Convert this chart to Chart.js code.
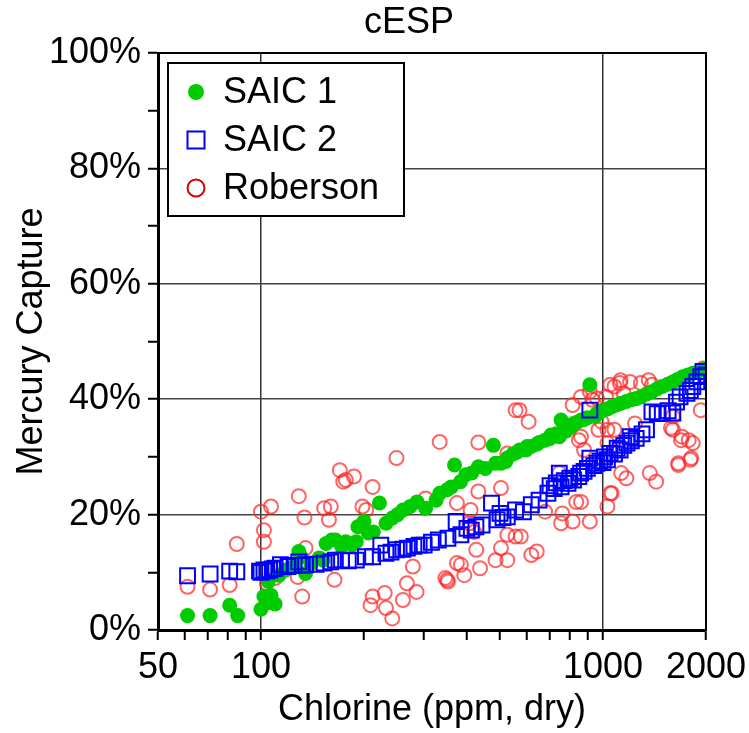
<!DOCTYPE html>
<html>
<head>
<meta charset="utf-8">
<script src="https://cdn.jsdelivr.net/npm/chart.js@4.4.1/dist/chart.umd.min.js"></script>
<style>
  html, body { margin: 0; padding: 0; background: #fff; }
  #wrap { width: 749px; height: 733px; }
</style>
</head>
<body>
<div id="wrap"><canvas id="myChart" width="749" height="733"></canvas></div>
<script>
var chartTitle = "cESP";
var xTitle = "Chlorine (ppm, dry)";
var yTitle = "Mercury Capture";
var seriesNames = ["SAIC 1", "SAIC 2", "Roberson"];

var xTickValues = [50, 60, 70, 80, 90, 100, 200, 300, 400, 500, 600, 700, 800, 900, 1000, 2000];
var xLabelValues = [50, 100, 1000, 2000];
var xGridValues = [100, 1000];

// SAIC 1 (green dots)
var saic1Chlorine = [61, 71, 81, 85.5, 100, 102, 104, 105, 107, 110, 113, 118, 125, 129, 131, 135, 140, 148, 152, 155, 161, 165, 172, 177, 185, 190, 192, 200, 206, 213, 222, 232, 242, 251, 260, 273, 286, 303, 325, 333, 350, 360, 368, 383, 397, 413, 432, 453, 478, 485, 503, 520, 525, 545, 560, 570, 595, 600, 616, 640, 650, 677, 700, 704, 730, 745, 754, 780, 790, 806, 820, 840, 863, 880, 900, 915, 948, 960, 980, 1000, 1030, 1060, 1095, 1130, 1170, 1210, 1250, 1290, 1340, 1390, 1440, 1490, 1545, 1600, 1650, 1710, 1770, 1830, 1900, 1960, 2000];
var saic1Capture = [2.5, 2.5, 4.3, 2.5, 3.6, 5.8, 4.7, 8.4, 6, 4.5, 9.5, 10.4, 11, 13.6, 12.7, 9.8, 11.5, 12.5, 12.1, 15, 15.6, 15.6, 14.5, 15.3, 14.8, 15.3, 17.9, 18.8, 16.8, 17, 22, 18.5, 19.4, 20, 20.8, 21.4, 22.2, 21.1, 22.5, 23.7, 24.3, 24.8, 28.6, 25.7, 26.9, 27.2, 28.3, 28, 32, 28.9, 28.9, 29.2, 29.8, 30.5, 30.8, 31.2, 31.2, 31.8, 31.8, 32.2, 32.5, 32.9, 33.2, 33.8, 34, 33.5, 36.4, 34.5, 35, 35.2, 35.8, 36, 36.4, 36.5, 36.8, 42.5, 37, 37.5, 37.8, 38.1, 38.3, 38.7, 39, 39.3, 39.6, 39.9, 40.1, 40.4, 40.9, 41.3, 41.8, 42.2, 42.6, 43, 43.4, 43.9, 44.2, 44.5, 44.8, 45.1, 45.3];

// SAIC 2 (blue squares)
var saic2Chlorine = [61, 71, 81, 85, 99, 100, 102, 104, 106, 108, 110, 114, 120, 125, 129, 132, 135, 145, 153, 160, 165, 172, 180, 190, 202, 212, 224, 232, 240, 249, 260, 268, 280, 290, 300, 315, 330, 352, 372, 384, 400, 412, 425, 443, 472, 490, 500, 510, 525, 555, 585, 617, 650, 690, 700, 720, 730, 745, 754, 770, 790, 800, 820, 850, 860, 880, 900, 915, 915, 940, 960, 980, 1000, 1010, 1030, 1048, 1080, 1100, 1122, 1150, 1175, 1200, 1210, 1250, 1300, 1340, 1390, 1440, 1490, 1550, 1600, 1640, 1680, 1760, 1800, 1830, 1880, 1930, 1960, 2000];
var saic2Capture = [9.4, 9.7, 10.2, 10.1, 10.2, 10, 10.4, 10.2, 10.4, 10.6, 10.7, 11.3, 11, 11.2, 11.8, 11.2, 11.3, 11.4, 11.6, 11.8, 12.1, 12.1, 12, 12.1, 12.7, 12.7, 14.7, 13.3, 13.5, 13.9, 14, 14.2, 14.5, 14.7, 14.7, 15.2, 15.6, 15.9, 18.8, 16.5, 17.6, 17.3, 17.9, 18.2, 22, 19.1, 20.2, 19.5, 19.6, 20.8, 20.5, 21.7, 22.5, 23.7, 25, 24.5, 25.5, 27.2, 24.8, 25.9, 25.4, 26.3, 26, 26.6, 27.2, 27.5, 28, 29.8, 38.1, 28.5, 28.9, 29.3, 29, 30, 29.5, 30.6, 30.5, 31.5, 31.2, 32, 32.4, 33.5, 32.8, 33.2, 34, 34.7, 37.8, 37.5, 37.6, 38, 37.6, 39.5, 40.4, 41, 41.5, 42.2, 43, 43.9, 44.8, 44.2];

// Roberson (red open circles)
var robChlorine = [61, 71, 81, 85, 100, 107, 102, 102, 104, 110, 129, 134, 135, 128, 132, 153, 158, 164, 170, 174, 177, 187, 198, 203, 212, 249, 160, 209, 212, 230, 232, 242, 260, 267, 285, 278, 303, 333, 346, 352, 350, 384, 393, 374, 426, 437, 485, 503, 525, 432, 374, 410, 407, 420, 432, 503, 525, 555, 570, 606, 555, 525, 617, 575, 640, 677, 754, 760, 815, 915, 835, 862, 1030, 1050, 1130, 1170, 1370, 1430, 1660, 1800, 745, 850, 815, 915, 1060, 1120, 1200, 1290, 1360, 1580, 1660, 1780, 1830, 1810, 1930, 1960, 970, 880, 1030, 1080, 1600, 1240, 990, 960, 1050, 930, 1020, 1080, 1125, 862, 1030, 1700, 1600, 1690, 862, 1150, 1390];
var robCapture = [7.5, 7, 7.8, 14.9, 20.5, 21.4, 17.3, 15.3, 8.1, 9, 23.2, 19.5, 14.2, 9.2, 5.8, 21.1, 19.1, 8.7, 27.7, 25.7, 26, 26.6, 21.4, 20.8, 24.8, 29.8, 21.4, 4.3, 5.8, 6.4, 3.8, 2, 5.2, 8.1, 6.6, 11, 22.8, 32.6, 9, 8.4, 8.7, 11.3, 9.5, 11.6, 13.9, 10.7, 12.1, 14.2, 16.5, 24, 22, 20.8, 18.5, 17, 32.5, 24.6, 30.6, 38.1, 38.1, 36.1, 16.2, 12.1, 13, 16.2, 13.6, 20.5, 18.5, 20.2, 18.8, 18.8, 22.2, 22.2, 21.4, 23.7, 27.2, 26.3, 27.2, 25.7, 28.6, 29.5, 27.2, 32.9, 39, 41.3, 23.7, 42.8, 43, 42.8, 43.3, 35, 28.9, 32.9, 32.4, 29.8, 38.1, 45.3, 34.7, 31.2, 32.4, 34.7, 37, 35.8, 36.1, 40.1, 42.5, 39.9, 40.4, 42.2, 43.3, 33.5, 34.7, 33.5, 34.7, 32.9, 40.4, 41, 42.5];

function toPoints(xs, ys) {
    var pts = [];
    for (var i = 0; i < xs.length; i++) {
        pts.push({x: xs[i], y: ys[i]});
    }
    return pts;
}

var fontFamily = '"Liberation Sans", Arial, sans-serif';

var decorations = {
    id: 'decorations',
    afterDraw: function(chart) {
        var ctx = chart.ctx;
        var a = chart.chartArea;
        ctx.save();
        // frame
        ctx.strokeStyle = '#000';
        ctx.lineWidth = 2;
        ctx.strokeRect(a.left, a.top, a.right - a.left, a.bottom - a.top);

        // title
        ctx.fillStyle = '#000';
        ctx.font = '36px ' + fontFamily;
        ctx.textAlign = 'center';
        ctx.textBaseline = 'middle';
        ctx.fillText(chartTitle, 409, 23);

        // legend box
        var lx = a.left + 10, ly = a.top + 10, lw = 236, lh = 153;
        ctx.fillStyle = '#fff';
        ctx.fillRect(lx, ly, lw, lh);
        ctx.strokeStyle = '#000';
        ctx.lineWidth = 2;
        ctx.strokeRect(lx, ly, lw, lh);

        var mx = lx + 28;
        var rows = [ly + 29, ly + 77, ly + 125];
        // green dot
        ctx.fillStyle = '#00cc00';
        ctx.beginPath();
        ctx.arc(mx, rows[0], 8, 0, Math.PI * 2);
        ctx.fill();
        // blue square
        ctx.strokeStyle = '#0000ff';
        ctx.lineWidth = 2;
        ctx.strokeRect(mx - 8.5, rows[1] - 8.5, 17, 17);
        // red circle
        ctx.strokeStyle = '#dd0000';
        ctx.beginPath();
        ctx.arc(mx, rows[2], 8.5, 0, Math.PI * 2);
        ctx.stroke();

        ctx.fillStyle = '#000';
        ctx.font = '36px ' + fontFamily;
        ctx.textAlign = 'left';
        ctx.textBaseline = 'middle';
        for (var i = 0; i < seriesNames.length; i++) {
            ctx.fillText(seriesNames[i], lx + 55, rows[i] + 1);
        }
        ctx.restore();
    }
};

var myChart = new Chart(document.getElementById('myChart'), {
    type: 'scatter',
    data: {
        datasets: [{
            label: seriesNames[1],
            data: toPoints(saic2Chlorine, saic2Capture),
            pointStyle: 'rect',
            pointRadius: 10.5,
            pointBorderWidth: 2,
            pointBorderColor: '#0000ff',
            pointBackgroundColor: 'rgba(0,0,0,0)',
            order: 0
        }, {
            label: seriesNames[0],
            data: toPoints(saic1Chlorine, saic1Capture),
            pointStyle: 'circle',
            pointRadius: 7.5,
            pointBorderWidth: 0,
            pointBorderColor: '#00cc00',
            pointBackgroundColor: '#00cc00',
            order: 1
        }, {
            label: seriesNames[2],
            data: toPoints(robChlorine, robCapture),
            pointStyle: 'circle',
            pointRadius: 7,
            pointBorderWidth: 2,
            pointBorderColor: 'rgba(255,40,40,0.72)',
            pointBackgroundColor: 'rgba(0,0,0,0)',
            order: 2
        }]
    },
    options: {
        responsive: false,
        animation: false,
        devicePixelRatio: 1,
        layout: { padding: { top: 53, right: 43, left: 0, bottom: 0 } },
        plugins: {
            legend: { display: false },
            title: { display: false },
            tooltip: { enabled: false }
        },
        scales: {
            x: {
                type: 'logarithmic',
                min: 50,
                max: 2000,
                afterBuildTicks: function(scale) {
                    scale.ticks = xTickValues.map(function(v) { return {value: v}; });
                },
                afterFit: function(scale) {
                    scale.height = 103;
                    scale.paddingLeft = 0;
                    scale.paddingRight = 0;
                },
                ticks: {
                    autoSkip: false,
                    maxRotation: 0,
                    padding: 6,
                    color: '#000',
                    font: { family: fontFamily, size: 36 },
                    callback: function(value) {
                        return xLabelValues.indexOf(value) >= 0 ? String(value) : '';
                    }
                },
                grid: {
                    color: function(ctx) {
                        return (ctx.tick && xGridValues.indexOf(ctx.tick.value) >= 0) ? '#333' : 'rgba(0,0,0,0)';
                    },
                    lineWidth: 1.5,
                    tickColor: '#000',
                    tickWidth: 2,
                    tickLength: 10
                },
                border: { color: '#000', width: 3 },
                title: {
                    display: true,
                    text: xTitle,
                    color: '#000',
                    font: { family: fontFamily, size: 36 },
                    padding: { top: 0, bottom: 1 }
                }
            },
            y: {
                min: 0,
                max: 100,
                afterFit: function(scale) { scale.width = 158; },
                ticks: {
                    stepSize: 10,
                    padding: 7,
                    color: '#000',
                    font: { family: fontFamily, size: 36 },
                    callback: function(value) {
                        return value % 20 === 0 ? value + '%' : '';
                    }
                },
                grid: {
                    color: function(ctx) {
                        return (ctx.tick && ctx.tick.value % 20 === 0) ? '#444' : 'rgba(0,0,0,0)';
                    },
                    lineWidth: 1.5,
                    tickColor: '#000',
                    tickWidth: 2,
                    tickLength: 10
                },
                border: { color: '#000', width: 3 },
                title: {
                    display: true,
                    text: yTitle,
                    color: '#000',
                    font: { family: fontFamily, size: 36 },
                    padding: { top: 10, bottom: 0 }
                }
            }
        }
    },
    plugins: [decorations]
});
</script>
</body>
</html>
